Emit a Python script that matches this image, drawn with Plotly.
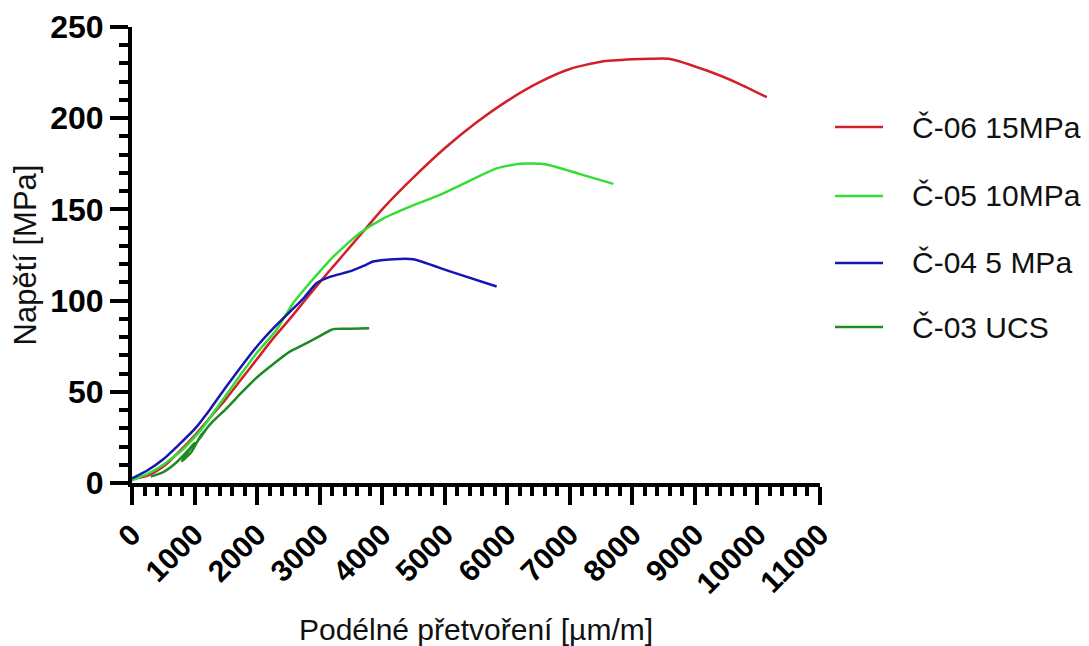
import plotly.graph_objects as go

# ---- data ----
names = ["Č-06 15MPa", "Č-05 10MPa", "Č-04 5 MPa", "Č-03 UCS"]
colors = ["#D2202A", "#33DD33", "#1616B4", "#1F8A24"]

c06_x = [0, 250, 500, 750, 1000, 1250, 1500, 1750, 2000, 2250, 2500, 2750, 3000, 3250, 3500,
         3750, 4000, 4500, 5000, 5500, 6000, 6500, 7000, 7500, 8000, 8300, 8600, 9200, 9700, 10150]
c06_y = [2, 4, 9, 17, 26, 36, 46, 57, 68, 79, 89, 99.5, 110, 120, 130,
         140, 150, 167.5, 183.5, 197.5, 209.5, 219.5, 227, 231, 232.3, 232.6, 232.5, 226, 219, 211.5]

c05_x = [0, 250, 500, 700, 600, 800, 1000, 900, 1100, 1250, 1500, 1750, 2000, 2310, 2576, 2900,
         3216, 3643, 4016, 4550, 4923, 5296, 5830, 6203, 6603, 7150, 7696]
c05_y = [1.5, 5, 10, 15.5, 12.5, 18, 25, 21.5, 29, 36, 48, 60, 71.5, 84, 98.6, 112,
         124, 137, 145, 153, 158, 164, 172.5, 175, 174.7, 169.5, 164]

c04_x = [0, 250, 500, 750, 1000, 1250, 1500, 1750, 2000, 2250, 2500, 2750, 2950, 3163, 3483,
         3700, 3856, 4176, 4496, 5083, 5830]
c04_y = [2.5, 7, 13, 21, 29.5, 40.5, 52.5, 64, 75, 84.5, 93, 101.5, 109.5, 113, 116,
         119, 121.4, 122.7, 122.7, 116, 107.7]

c03_x = [300, 500, 700, 900, 1000, 850, 800, 950, 1100, 1200, 1050, 1150, 1300, 1500, 1750,
         2000, 2250, 2523, 2736, 3000, 3163, 3243, 3500, 3792]
c03_y = [3.5, 6, 11, 18, 22, 15, 12, 17, 26, 30, 23, 28, 34, 40.5, 49.5,
         58, 65, 72, 75.7, 80.5, 83.6, 84.5, 84.6, 84.8]

series_x = [c06_x, c05_x, c04_x, c03_x]
series_y = [c06_y, c05_y, c04_y, c03_y]

x_range = [0, 11000]
y_range = [0, 250]
x_title = "Podélné přetvoření [µm/m]"
y_title = "Napětí [MPa]"

FONT = "Liberation Sans, Arial, sans-serif"

fig = go.Figure()
for nm, col, xs, ys in zip(names, colors, series_x, series_y):
    fig.add_trace(go.Scatter(x=xs, y=ys, mode="lines", name=nm,
                             line=dict(color=col, width=2.5, shape="spline", smoothing=0.6),
                             showlegend=False))

# custom legend (line samples + text) placed right of the plot
legend_y = [0.7807, 0.6294, 0.4825, 0.3421]
for nm, col, ly in zip(names, colors, legend_y):
    fig.add_shape(type="line", xref="paper", yref="paper", x0=1.0218, x1=1.0916, y0=ly, y1=ly,
                  line=dict(color=col, width=2.6))
    fig.add_annotation(xref="paper", yref="paper", x=1.1308, y=ly, text=nm, showarrow=False,
                       xanchor="left", yanchor="middle",
                       font=dict(family=FONT, size=30, color="#111111"))

axis_common = dict(showline=True, linewidth=4, linecolor="black", showgrid=False, zeroline=False,
                   ticks="outside", ticklen=18, tickwidth=4, tickcolor="black")

fig.update_xaxes(range=x_range, dtick=1000, tick0=0, tickangle=-45, tickformat="d",
                 tickfont=dict(family=FONT, size=30, color="black", weight="bold"),
                 minor=dict(dtick=200, ticks="outside", ticklen=9, tickwidth=3.5, tickcolor="black"),
                 title=dict(text=x_title, font=dict(family=FONT, size=30, color="#111111"), standoff=24),
                 **axis_common)
fig.update_yaxes(range=y_range, dtick=50, tick0=0,
                 tickfont=dict(family=FONT, size=32, color="black", weight="bold"),
                 minor=dict(dtick=10, ticks="outside", ticklen=9, tickwidth=3.5, tickcolor="black"),
                 title=dict(text=y_title, font=dict(family=FONT, size=31, color="#111111"), standoff=14),
                 **axis_common)

# the page adds an 8px body margin; size the figure so it fits inside the window
fig.update_layout(width=1081, height=638, plot_bgcolor="white", paper_bgcolor="white",
                  margin=dict(l=124, r=269, t=19, b=163, autoexpand=False), showlegend=False)

fig.write_html("out.html")
